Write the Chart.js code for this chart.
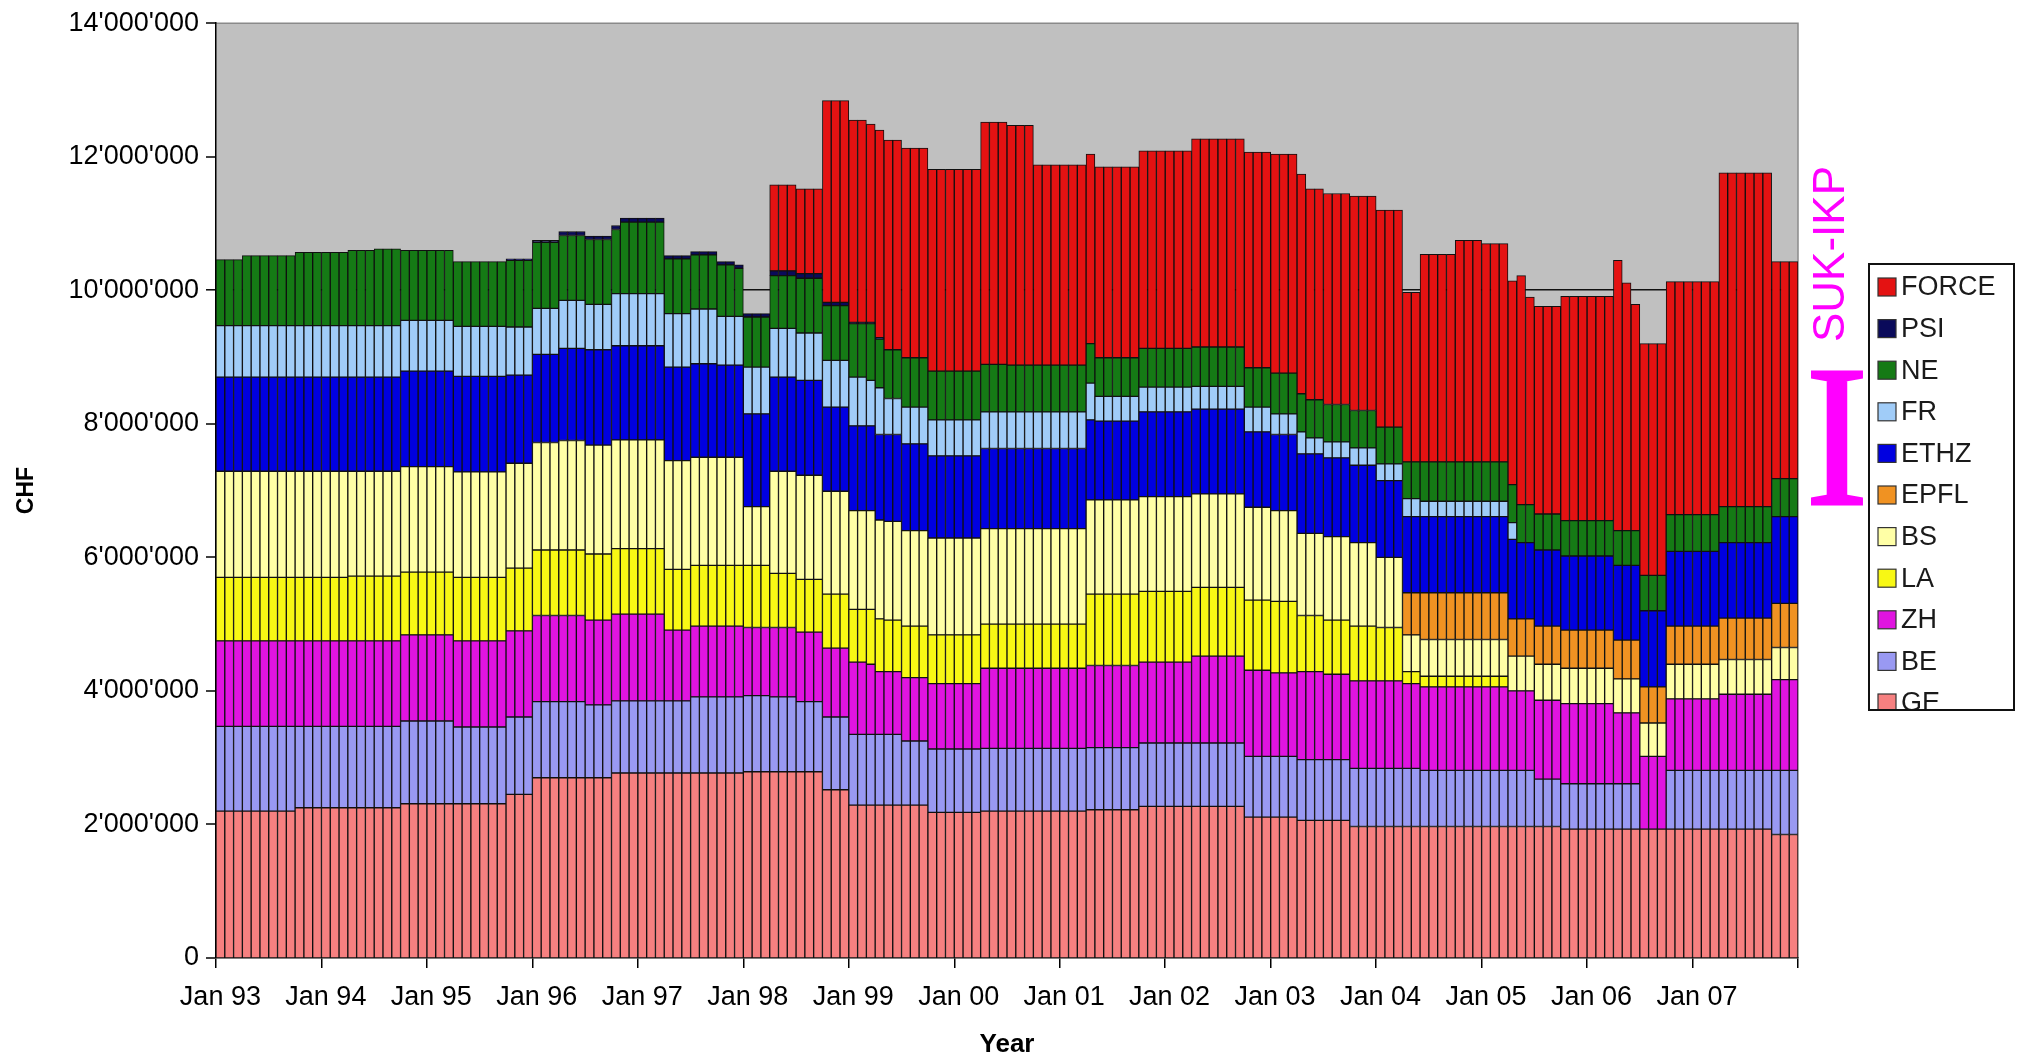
<!DOCTYPE html>
<html>
<head>
<meta charset="utf-8">
<script src="https://cdn.jsdelivr.net/npm/chart.js@4.4.1/dist/chart.umd.min.js"></script>
<style>
html,body{margin:0;padding:0;background:#fff;}
canvas{display:block;}
</style>
</head>
<body>
<canvas id="c" width="2017" height="1056" style="width:2017px;height:1056px"></canvas>
<script>
// ---------- DATA (values in thousand CHF) ----------
const years = ['93','94','95','96','97','98','99','00','01','02','03','04','05','06','07'];
const monthNames = ['Jan','Feb','Mar','Apr','May','Jun','Jul','Aug','Sep','Oct','Nov','Dec'];

// number of consecutive months for which each step value below holds (sum = 180)
const periodMonths = [
  3,6,6,3,3,6,6,3,
  3,3,3,1,5,3,3,2,1,
  3,3,3,3,2,1,1,2,3,6,3,3,
  6,1,5,6,6,3,3,
  1,2,3,3,3,2,4,3,3,1,1,1,3,
  6,1,1,1,3,6,6,3
];

const GE = [
  2200,2200,2250,2250,2250,2310,2310,2450,
  2700,2700,2700,2770,2770,2770,2770,2770,2770,
  2790,2790,2790,2520,2290,2290,2290,2290,2290,2180,2200,2200,
  2200,2220,2220,2270,2270,2110,2110,
  2060,2060,2060,1970,1970,1970,1970,1970,1970,1970,1970,1970,1970,
  1930,1930,1930,1930,1930,1930,1930,1850
];
const BE = [
  1270,1270,1220,1220,1220,1240,1150,1160,
  1140,1140,1090,1080,1080,1080,1140,1140,1140,
  1140,1120,1050,1090,1060,1060,1060,1060,960,950,940,940,
  940,930,930,950,950,910,910,
  910,910,910,870,870,870,840,840,840,840,840,840,710,
  680,680,680,680,0,880,880,960
];
const ZH = [
  1280,1280,1280,1280,1280,1290,1290,1290,
  1290,1290,1270,1300,1300,1060,1060,1060,1060,
  1020,1040,1040,1030,1080,1050,940,940,950,980,1200,1200,
  1200,1230,1230,1210,1300,1290,1250,
  1320,1320,1280,1310,1310,1270,1250,1250,1250,1190,1190,1190,1180,
  1200,1060,1060,1060,1090,1070,1140,1360
];
const LA = [
  950,950,950,970,970,940,950,940,
  980,980,990,980,980,910,910,910,910,
  930,810,790,810,790,820,790,770,770,730,660,660,
  660,1070,1070,1060,1030,1050,1070,
  840,840,810,820,800,180,160,160,160,0,0,0,0,
  0,0,0,0,0,0,0,0
];
const BS = [
  1590,1590,1590,1570,1570,1580,1580,1570,
  1610,1640,1630,1630,1630,1630,1620,1620,1620,
  880,1530,1560,1540,1480,1480,1480,1480,1430,1450,1430,1430,
  1430,1410,1410,1420,1400,1390,1360,
  1230,1230,1250,1250,1050,550,550,550,550,520,520,520,540,
  530,510,510,510,500,520,520,480
];
const EPFL = [
  0,0,0,0,0,0,0,0,
  0,0,0,0,0,0,0,0,0,
  0,0,0,0,0,0,0,0,0,0,0,0,
  0,0,0,0,0,0,0,
  0,0,0,0,0,630,700,700,700,560,560,560,570,
  570,580,580,580,540,570,620,660
];
const ETHZ = [
  1410,1410,1410,1410,1410,1430,1430,1320,
  1320,1380,1430,1410,1410,1400,1400,1380,1380,
  1390,1410,1420,1260,1270,1270,1280,1300,1300,1230,1200,1200,
  1200,1200,1180,1270,1270,1130,1140,
  1190,1190,1180,1160,1150,1140,1140,1140,1140,1190,1140,1140,1140,
  1110,1120,1120,1120,1140,1120,1130,1300
];
const FR = [
  770,770,770,770,770,760,750,720,
  690,720,680,780,780,800,820,730,730,
  700,730,710,700,730,680,700,540,550,540,550,550,
  550,550,370,370,340,370,310,
  330,240,240,260,250,270,230,230,230,250,0,0,0,
  0,0,0,0,0,0,0,0
];
const NE = [
  990,1050,1100,1130,1150,1050,970,1000,
  990,970,970,960,1070,820,810,770,720,
  750,790,820,820,800,850,730,730,740,730,710,700,
  700,590,580,580,590,590,610,
  570,570,560,560,550,550,590,590,590,570,570,570,540,
  530,520,520,520,530,550,540,570
];
const PSI = [
  0,0,0,0,0,0,0,20,
  30,60,50,60,60,50,50,50,50,
  50,70,70,50,20,20,20,0,0,0,0,0,
  0,0,0,0,0,0,0,
  0,0,0,0,0,0,0,0,0,0,0,0,0,
  0,0,0,0,0,0,0,0
];
const FORCE = [
  0,0,0,0,0,0,0,0,
  0,0,0,0,0,0,0,0,0,
  0,1290,1270,3020,3030,2970,3110,3140,3140,3020,3630,3590,
  3000,2840,2860,2960,3120,3230,3280,
  3290,3160,3160,3210,3250,2540,3110,3320,3270,3050,3430,3110,3110,
  3360,4050,3710,3390,3470,3490,5000,3250
];

const yTicks = [0, 2000000, 4000000, 6000000, 8000000, 10000000, 12000000, 14000000];

// ---------- BUILD ----------
const categories = [];
years.forEach(y => monthNames.forEach(m => categories.push(m + ' ' + y)));

function expand(steps) {
  const out = [];
  steps.forEach((v, i) => { for (let k = 0; k < periodMonths[i]; k++) out.push(v === 0 ? null : v * 1000); });
  return out;
}

const seriesDefs = [
  ['GE', GE, '#F68080'],
  ['BE', BE, '#9999F2'],
  ['ZH', ZH, '#E014E0'],
  ['LA', LA, '#F8F814'],
  ['BS', BS, '#FFFFA6'],
  ['EPFL', EPFL, '#F09222'],
  ['ETHZ', ETHZ, '#0000E0'],
  ['FR', FR, '#A0CCF8'],
  ['NE', NE, '#157A15'],
  ['PSI', PSI, '#0A0A5A'],
  ['FORCE', FORCE, '#E41212']
];

const datasets = seriesDefs.map(([label, arr, color]) => ({
  label: label,
  data: expand(arr),
  backgroundColor: color,
  borderColor: '#101010',
  borderWidth: 1,
  borderSkipped: false,
  barPercentage: 1,
  categoryPercentage: 1
}));

function fmt(v) {
  return String(v).replace(/\B(?=(\d{3})+(?!\d))/g, "'");
}

const FONT = "'Liberation Sans', Arial, sans-serif";

const decorPlugin = {
  id: 'decor',
  beforeDraw(chart) {
    const {ctx, chartArea: a} = chart;
    ctx.save();
    ctx.fillStyle = '#C0C0C0';
    ctx.fillRect(a.left, a.top, a.right - a.left, a.bottom - a.top);
    ctx.strokeStyle = '#8a8a8a';
    ctx.lineWidth = 1.5;
    ctx.beginPath();
    ctx.moveTo(a.left, a.top);
    ctx.lineTo(a.right, a.top);
    ctx.lineTo(a.right, a.bottom);
    ctx.stroke();
    ctx.restore();
  },
  afterDraw(chart) {
    const {ctx, chartArea: a} = chart;
    const yS = chart.scales.y;
    // annotation text
    ctx.save();
    ctx.translate(a.right + 34, 254);
    ctx.rotate(-Math.PI / 2);
    ctx.font = '44px ' + FONT;
    ctx.fillStyle = '#FF00FF';
    ctx.textAlign = 'center';
    ctx.textBaseline = 'middle';
    ctx.fillText('SUK-IKP', 0, 0);
    ctx.restore();
    // big serif "I" bracket
    ctx.save();
    const base = yS.getPixelForValue(6800000);
    ctx.translate(a.right + 39, base);
    ctx.scale(1, 1.08);
    ctx.font = "187px 'Liberation Serif', 'Times New Roman', serif";
    ctx.fillStyle = '#FF00FF';
    ctx.strokeStyle = '#FF00FF';
    ctx.lineWidth = 3;
    ctx.lineJoin = 'miter';
    ctx.textAlign = 'center';
    ctx.textBaseline = 'alphabetic';
    ctx.fillText('I', 0, 0);
    ctx.strokeText('I', 0, 0);
    ctx.restore();
    // legend box (last entry is cut by the frame, as in the original)
    const L = {x: a.right + 71, y: 264, w: 145, h: 446};
    ctx.save();
    ctx.fillStyle = '#fff';
    ctx.fillRect(L.x, L.y, L.w, L.h);
    ctx.beginPath();
    ctx.rect(L.x + 1, L.y + 1, L.w - 2, L.h - 2);
    ctx.clip();
    const ds = chart.data.datasets.slice().reverse();
    ctx.font = '27px ' + FONT;
    ctx.textBaseline = 'middle';
    ctx.textAlign = 'left';
    ds.forEach((d, i) => {
      const cy = L.y + 23 + i * 41.6;
      ctx.fillStyle = d.backgroundColor;
      ctx.fillRect(L.x + 9, cy - 9, 18, 18);
      ctx.strokeStyle = '#333';
      ctx.lineWidth = 1.2;
      ctx.strokeRect(L.x + 9, cy - 9, 18, 18);
      ctx.fillStyle = '#1a1a1a';
      ctx.fillText(d.label, L.x + 32, cy + 1);
    });
    ctx.restore();
    ctx.save();
    ctx.strokeStyle = '#111';
    ctx.lineWidth = 2;
    ctx.strokeRect(L.x, L.y, L.w, L.h);
    ctx.restore();
  }
};

Chart.defaults.font.family = FONT;
Chart.defaults.color = '#000';

new Chart(document.getElementById('c'), {
  type: 'bar',
  data: { labels: categories, datasets: datasets },
  plugins: [decorPlugin],
  options: {
    responsive: false,
    animation: false,
    devicePixelRatio: 1,
    layout: { padding: { left: 0, top: 19, right: 219, bottom: 0 } },
    plugins: { legend: { display: false }, tooltip: { enabled: false } },
    scales: {
      x: {
        type: 'category',
        stacked: true,
        offset: true,
        afterFit(s) { s.height = 98; },
        border: { display: true, color: '#000', width: 1.5 },
        grid: {
          offset: true,
          drawOnChartArea: false,
          drawTicks: true,
          tickLength: 10,
          lineWidth: 1.5,
          color: 'rgba(0,0,0,0)',
          tickColor: (c) => (c.index === undefined || c.index % 12 === 0) ? '#000' : 'rgba(0,0,0,0)'
        },
        ticks: {
          autoSkip: false,
          maxRotation: 0,
          minRotation: 0,
          padding: 13,
          font: { size: 27 },
          color: '#000',
          callback: function (v, i) { return i % 12 === 0 ? categories[i] : ''; }
        },
        title: { display: true, text: 'Year', font: { size: 26, weight: 'bold' }, padding: { top: 0, bottom: -4 }, color: '#000' }
      },
      y: {
        stacked: true,
        min: yTicks[0],
        max: yTicks[yTicks.length - 1],
        afterFit(s) { s.width = 216; },
        afterBuildTicks(s) { s.ticks = yTicks.map(v => ({ value: v })); },
        border: { display: true, color: '#000', width: 1.5 },
        grid: {
          drawTicks: true,
          tickLength: 10,
          tickColor: '#000',
          tickWidth: 1.5,
          lineWidth: (c) => (c.tick && c.tick.value === 10000000) ? 1.6 : 0,
          color: (c) => (c.tick && c.tick.value === 10000000) ? '#111' : 'rgba(0,0,0,0)'
        },
        ticks: {
          padding: 7,
          font: { size: 27 },
          color: '#000',
          callback: (v) => fmt(v)
        },
        title: { display: true, text: 'CHF', font: { size: 23, weight: 'bold' }, padding: { top: 13, bottom: 0 }, color: '#000' }
      }
    }
  }
});
</script>
</body>
</html>
